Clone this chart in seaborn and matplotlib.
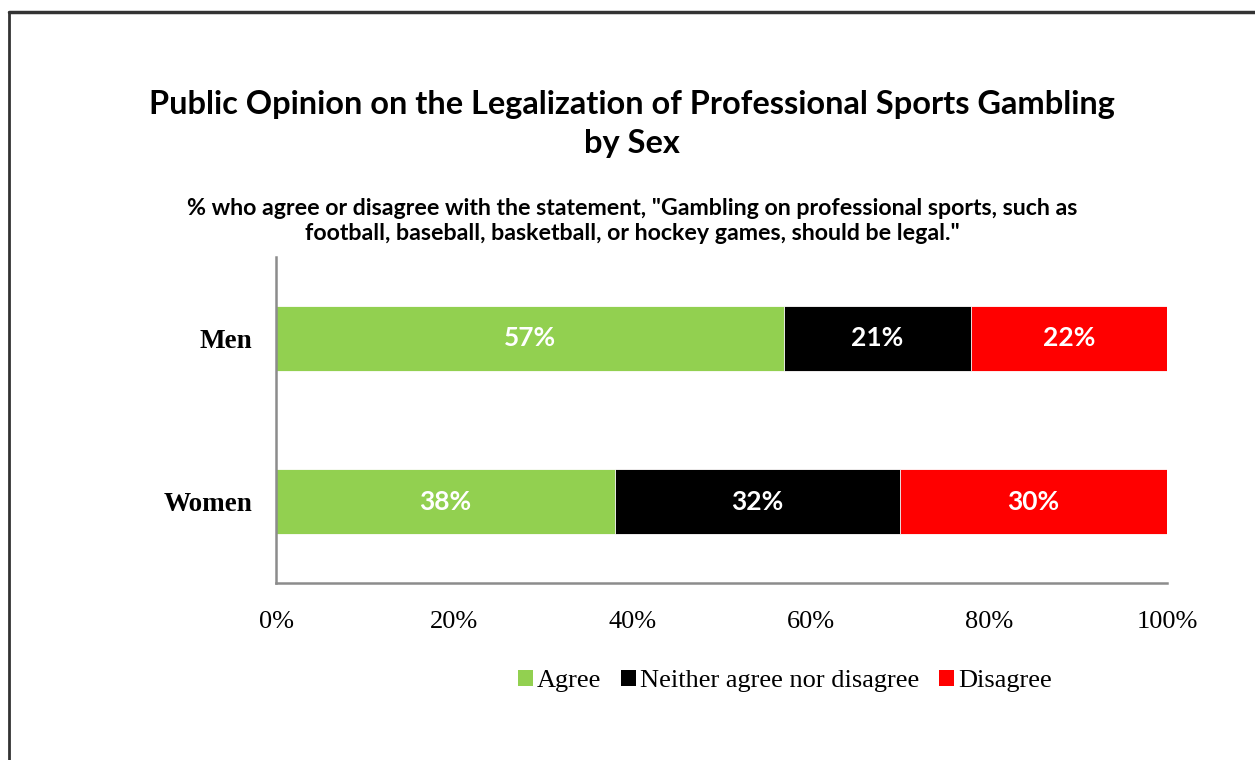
import matplotlib
matplotlib.use("Agg")
import matplotlib.pyplot as plt
from matplotlib.lines import Line2D
from matplotlib.patches import Patch
import numpy as np
import pandas as pd
import seaborn as sns

# Survey results (percent of respondents)
groups = ["Men", "Women"]
agree = [57, 38]
neither = [21, 32]
disagree = [22, 30]
series_names = ["Agree", "Neither agree nor disagree", "Disagree"]
series_colors = ["#92D050", "#000000", "#FF0000"]
tick_values = [0, 20, 40, 60, 80, 100]
tick_labels = ["0%", "20%", "40%", "60%", "80%", "100%"]

title = "Public Opinion on the Legalization of Professional Sports Gambling\nby Sex"
subtitle = ('% who agree or disagree with the statement, "Gambling on professional sports, such as\n'
            'football, baseball, basketball, or hockey games, should be legal."')

sns.set_theme(style="white")
plt.rcParams["font.family"] = ["Liberation Serif", "DejaVu Serif"]
plt.rcParams["text.color"] = "black"
plt.rcParams["xtick.color"] = "black"
plt.rcParams["ytick.color"] = "black"

SANS = ["Lato", "DejaVu Sans"]

W, H = 1255, 760
fig = plt.figure(figsize=(W / 100, H / 100), dpi=100)
fig.patch.set_facecolor("white")

# plot area in pixel terms
x0, x1 = 276, 1167
y_top, y_bot = 257, 583
ax = fig.add_axes([x0 / W, 1 - y_bot / H, (x1 - x0) / W, (y_bot - y_top) / H])

df = pd.DataFrame({
    "group": groups,
    "agree": agree,
    "neither": neither,
    "disagree": disagree,
})
df["cum_neither"] = df["agree"] + df["neither"]
df["cum_total"] = df["cum_neither"] + df["disagree"]

# stacked bars drawn back to front using cumulative totals
for col, color in zip(["cum_total", "cum_neither", "agree"], series_colors[::-1]):
    sns.barplot(data=df, x=col, y="group", orient="h", color=color,
                width=0.4, saturation=1, edgecolor="white", linewidth=0.6, ax=ax)

# value labels centred in each segment
seg_values = [df["agree"], df["neither"], df["disagree"]]
seg_starts = [np.zeros(len(df)), df["agree"].values, df["cum_neither"].values]
for vals, starts in zip(seg_values, seg_starts):
    for i, (v, s) in enumerate(zip(vals, starts)):
        ax.text(s + v / 2, i, f"{v}%", ha="center", va="center", color="white",
                fontsize=19, fontweight="bold", family=SANS)

ax.set_xlim(0, 100)
ax.set_ylim(1.5, -0.5)
ax.set_xlabel("")
ax.set_ylabel("")
ax.set_xticks(tick_values)
ax.set_xticklabels(tick_labels, fontsize=19)
ax.tick_params(axis="x", length=0, pad=20)
ax.tick_params(axis="y", length=0, pad=17)
for lbl in ax.get_yticklabels():
    lbl.set_fontsize(19.5)
    lbl.set_fontweight("bold")

for side in ["top", "right"]:
    ax.spines[side].set_visible(False)
for side in ["left", "bottom"]:
    ax.spines[side].set_color("#8c8c8c")
    ax.spines[side].set_linewidth(1.8)

# titles
fig.text(632 / W, 1 - 124 / H, title, ha="center", va="center",
         fontsize=23.4, fontweight="bold", family=SANS, linespacing=1.44)
fig.text(632 / W, 1 - 221 / H, subtitle, ha="center", va="center",
         fontsize=16.7, fontweight="bold", family=SANS, linespacing=1.25)

# legend
handles = [Patch(facecolor=c, edgecolor="none", label=n) for n, c in zip(series_names, series_colors)]
fig.legend(handles=handles, loc="center", bbox_to_anchor=(785 / W, 1 - 681 / H),
           ncol=3, frameon=False, fontsize=19, handlelength=0.57, handleheight=0.57,
           handletextpad=0.15, columnspacing=0.75)

# outer chart border (left and top edges)
fig.add_artist(Line2D([9 / W, 9 / W], [0, 1 - 12 / H], color="#333333", linewidth=2))
fig.add_artist(Line2D([9 / W, 1], [1 - 12 / H, 1 - 12 / H], color="#333333", linewidth=2.5))

fig.savefig("out.png", dpi=100)
